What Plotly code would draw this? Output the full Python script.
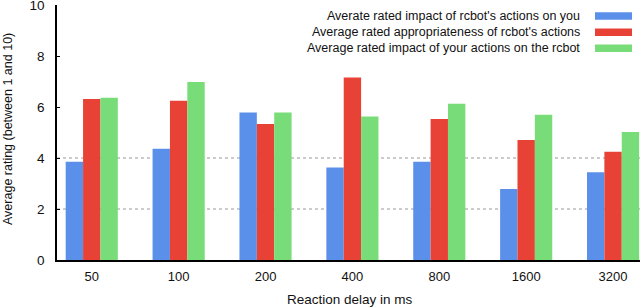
import plotly.graph_objects as go

categories = ["50", "100", "200", "400", "800", "1600", "3200"]
series_names = [
    "Averate rated impact of rcbot's actions on you",
    "Average rated appropriateness of rcbot's actions",
    "Average rated impact of your actions on the rcbot",
]
impact_of_robot = [3.85, 4.36, 5.78, 3.63, 3.85, 2.78, 3.44]
appropriateness = [6.31, 6.25, 5.33, 7.16, 5.53, 4.71, 4.25]
impact_of_you = [6.36, 6.98, 5.78, 5.63, 6.13, 5.70, 5.02]
colors = ["#5b90ea", "#e84236", "#78dd78"]
y_ticks = [0, 2, 4, 6, 8, 10]
grid_values = [2, 4]

FONT = "Liberation Sans, Arial, sans-serif"
fig = go.Figure()
for name, vals, col in zip(series_names, [impact_of_robot, appropriateness, impact_of_you], colors):
    fig.add_trace(go.Bar(x=categories, y=vals, name=name, marker=dict(color=col, line=dict(width=0)),
                         showlegend=False))

L, R, T, B = 57, 0, 5, 48
W, H = 640, 308
pw, ph = W - L - R, H - T - B

def px(x):
    return (x - L) / pw

def py(y):
    return (H - B - y) / ph

shapes = []
for g in grid_values:
    shapes.append(dict(type="line", xref="paper", yref="y", x0=0, x1=1, y0=g, y1=g,
                       line=dict(color="#999999", width=1, dash="dot"), layer="below"))

annotations = []
rows_y = [16, 32.3, 48.3]
for name, col, ry in zip(series_names, colors, rows_y):
    annotations.append(dict(text=name, xref="paper", yref="paper", x=px(582), y=py(ry),
                            xanchor="right", yanchor="middle", showarrow=False,
                            font=dict(family=FONT, size=12.5, color="#111111")))
    shapes.append(dict(type="rect", xref="paper", yref="paper", x0=px(595), x1=px(632),
                       y0=py(ry - 3.8), y1=py(ry + 3.8), fillcolor=col, line=dict(width=0)))

annotations.append(dict(text="Reaction delay in ms", xref="paper", yref="paper", x=px(350), y=py(300),
                        xanchor="center", yanchor="middle", showarrow=False,
                        font=dict(family=FONT, size=13.5, color="#111111")))
annotations.append(dict(text="Average rating (between 1 and 10)", xref="paper", yref="paper",
                        x=px(8), y=py(129), xanchor="center", yanchor="middle", textangle=-90,
                        showarrow=False, font=dict(family=FONT, size=12.5, color="#111111")))

fig.update_layout(
    width=W, height=H,
    margin=dict(l=L, r=R, t=T, b=B, autoexpand=False),
    paper_bgcolor="white", plot_bgcolor="white",
    barmode="group", bargap=0.4, bargroupgap=0,
    font=dict(family=FONT, size=13, color="#111111"),
    shapes=shapes, annotations=annotations,
    xaxis=dict(range=[-0.4, 6.31], showline=True, linecolor="black", linewidth=1.5,
               ticks="", showgrid=False, zeroline=False, ticklabelstandoff=4,
               automargin=False, ticklabeloverflow="allow",
               tickfont=dict(family=FONT, size=13)),
    yaxis=dict(range=[0, 10], tickvals=y_ticks, showline=True, linecolor="black", linewidth=1.5,
               ticks="inside", ticklen=3, tickcolor="black", showgrid=False, zeroline=False,
               ticklabelstandoff=8, automargin=False, ticklabeloverflow="allow",
               tickfont=dict(family=FONT, size=13.5)),
)

fig.write_html("out.html", config={"displayModeBar": False},
               post_script="document.body.style.margin='0';document.body.style.overflow='hidden';")
